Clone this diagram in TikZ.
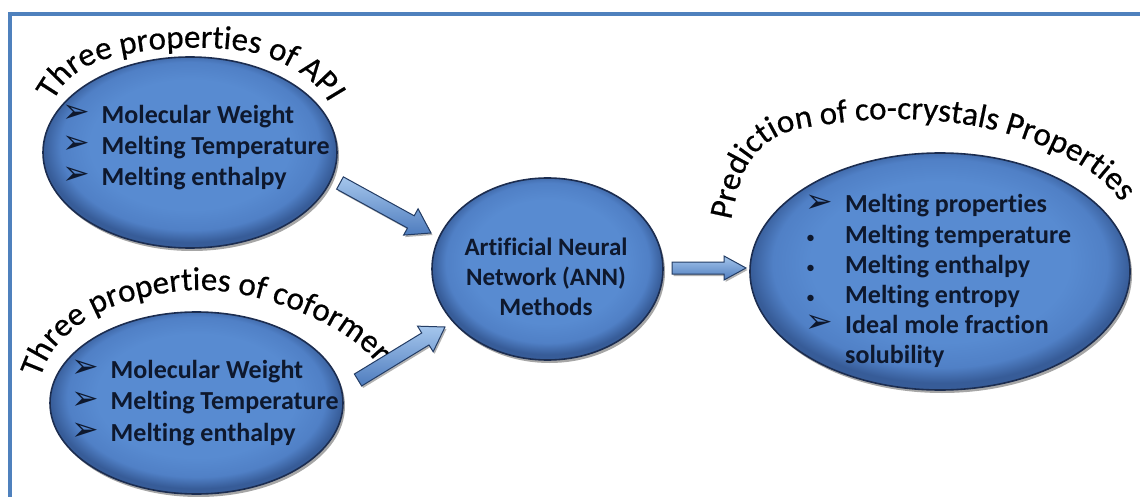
\documentclass[tikz,border=0pt]{standalone}
\usepackage{fontspec}
\setmainfont[Ligatures=NoCommon]{Carlito}
\newfontfamily\symfont{DejaVu Sans}
\newfontfamily\archfont[FakeBold=0.5,Ligatures=NoCommon]{Carlito}
\usetikzlibrary{calc,shapes.geometric,decorations.text,shadows}

\definecolor{frameblue}{RGB}{79,129,189}
\definecolor{blobfill}{RGB}{88,139,209}
\definecolor{blobmid}{RGB}{80,128,198}
\definecolor{blobrim}{RGB}{55,92,152}
\definecolor{blobedge}{RGB}{28,45,80}
\definecolor{itemcol}{RGB}{14,24,45}
\definecolor{arrowlight}{RGB}{165,198,236}
\definecolor{arrowdark}{RGB}{78,124,190}
\definecolor{arrowedge}{RGB}{35,60,100}

\pgfdeclareradialshading{blobshade}{\pgfpoint{0bp}{3bp}}{%
  color(0bp)=(blobfill); color(17bp)=(blobfill); color(22bp)=(blobmid);
  color(25bp)=(blobrim); color(50bp)=(blobrim)}

\newcommand\apifont{\bfseries\fontsize{26}{31}\selectfont}
\newcommand\coffont{\bfseries\fontsize{26}{31.5}\selectfont}
\newcommand\predfont{\bfseries\fontsize{26}{30}\selectfont}
\newcommand\annfont{\bfseries\fontsize{25}{30}\selectfont}
\newcommand\titlefont{\archfont\fontsize{33}{33}\selectfont}
\newcommand\arrglyph{\raisebox{0.5pt}{\symfont\mdseries\fontsize{33}{33}\selectfont ➢}}
\newcommand\arrbul{\makebox[39.5pt][l]{\arrglyph}}
\newcommand\arrbulw{\makebox[40pt][l]{\arrglyph}}
\newcommand\dotbul{\makebox[40pt][l]{\hspace{1pt}\mdseries\fontsize{18}{18}\selectfont •}}

% block arrow: #2 tail, #3 tip, #4 half shaft, #5 half head, #6 head length
\newcommand\blockarrow[6][]{%
  \coordinate (hb) at ($(#3)!#6!(#2)$);
  \path[arrowbody,#1] ($(#2)!#4!90:(#3)$) -- ($(hb)!#4!90:(#3)$)
    -- ($(hb)!#5!90:(#3)$) -- (#3) -- ($(hb)!#5!-90:(#3)$)
    -- ($(hb)!#4!-90:(#3)$) -- ($(#2)!#4!-90:(#3)$) -- cycle;
}

\tikzset{
  blob/.style={ellipse, draw=blobedge, line width=1.6pt, shading=blobshade,
    inner sep=0pt,
    drop shadow={shadow xshift=2pt, shadow yshift=-3pt, opacity=0.35, fill=black}},
  itemlist/.style={text=itemcol, inner sep=0pt, anchor=base west},
  arrowbody/.style={draw=arrowedge, line width=1pt, top color=arrowlight,
    bottom color=arrowdark,
    drop shadow={shadow xshift=1.5pt, shadow yshift=-2pt, opacity=0.3, fill=black}},
  frameline/.style={draw=frameblue, line width=4pt},
  arched/.style={decorate, decoration={text along path, text align=left,
    text={|\titlefont|#1}}},
}

\begin{document}
\begin{tikzpicture}[x=1pt, y=-1pt]
\useasboundingbox (0,0) rectangle (1140,497);

% page frame (top and left rules)
\draw[frameline] (8,14) -- (1140,14);
\draw[frameline] (10,12) -- (10,497);

% ellipses
\node[blob, minimum width=294pt, minimum height=191pt] (api) at (190,152.5) {};
\node[blob, minimum width=293pt, minimum height=182pt] (cof) at (196.5,403) {};
\node[blob, minimum width=231pt, minimum height=182pt] (ann) at (547.5,269) {};
\node[blob, minimum width=380pt, minimum height=237pt] (pred) at (940,271.5) {};

% block arrows between the ellipses
\coordinate (a1s) at (340,183);
\coordinate (a1e) at (431,233);
\coordinate (a2s) at (358,380);
\coordinate (a2e) at (445,327);
\coordinate (a3s) at (672,268);
\coordinate (a3e) at (746,268);
\blockarrow{a1s}{a1e}{7pt}{15pt}{23pt}
\blockarrow{a2s}{a2e}{7pt}{15pt}{23pt}
\blockarrow{a3s}{a3e}{6pt}{12pt}{22pt}

% arched titles
\path[arched={Three properties of API}]
  plot[smooth, tension=0.6] coordinates {(53,101) (68,80) (92,64) (122,55) (163,49)
    (210,48) (255,53) (290,67) (315,85) (330,105) (338,135)};
\path[arched={Three properties of coformer}]
  plot[smooth, tension=0.6] coordinates {(40,378) (57,345) (98,313) (150,296) (200,290)
    (250,296) (300,312) (345,335) (378,365) (392,400)};
\path[arched={Prediction of co-crystals Properties}]
  plot[smooth, tension=0.6] coordinates {(731,220) (746,168) (778,136) (830,124) (900,119)
    (975,126) (1040,145) (1095,175) (1130,215) (1145,260)};

% item lists
\node[itemlist, font=\apifont] (apilist) at (62,123.5) {%
  \begin{tabular}[t]{@{}l@{}}
  \arrbul Molecular Weight\\
  \arrbul Melting Temperature\\
  \arrbul Melting enthalpy
  \end{tabular}};
\node[itemlist, font=\coffont] (coflist) at (71,378) {%
  \begin{tabular}[t]{@{}l@{}}
  \arrbul Molecular Weight\\
  \arrbul Melting Temperature\\
  \arrbul Melting enthalpy
  \end{tabular}};
\node[itemlist, font=\predfont] (predlist) at (805,213) {%
  \begin{tabular}[t]{@{}l@{}}
  \arrbulw Melting properties\\
  \dotbul Melting temperature\\
  \dotbul Melting enthalpy\\
  \dotbul Melting entropy\\
  \arrbulw Ideal mole fraction\\
  \hspace{40pt}solubility
  \end{tabular}};
\node[text=itemcol, inner sep=0pt, anchor=base, font=\annfont] (anntext) at (546,255) {%
  \begin{tabular}[t]{@{}c@{}}
  Artificial Neural\\
  Network (ANN)\\
  Methods
  \end{tabular}};
\end{tikzpicture}
\end{document}
